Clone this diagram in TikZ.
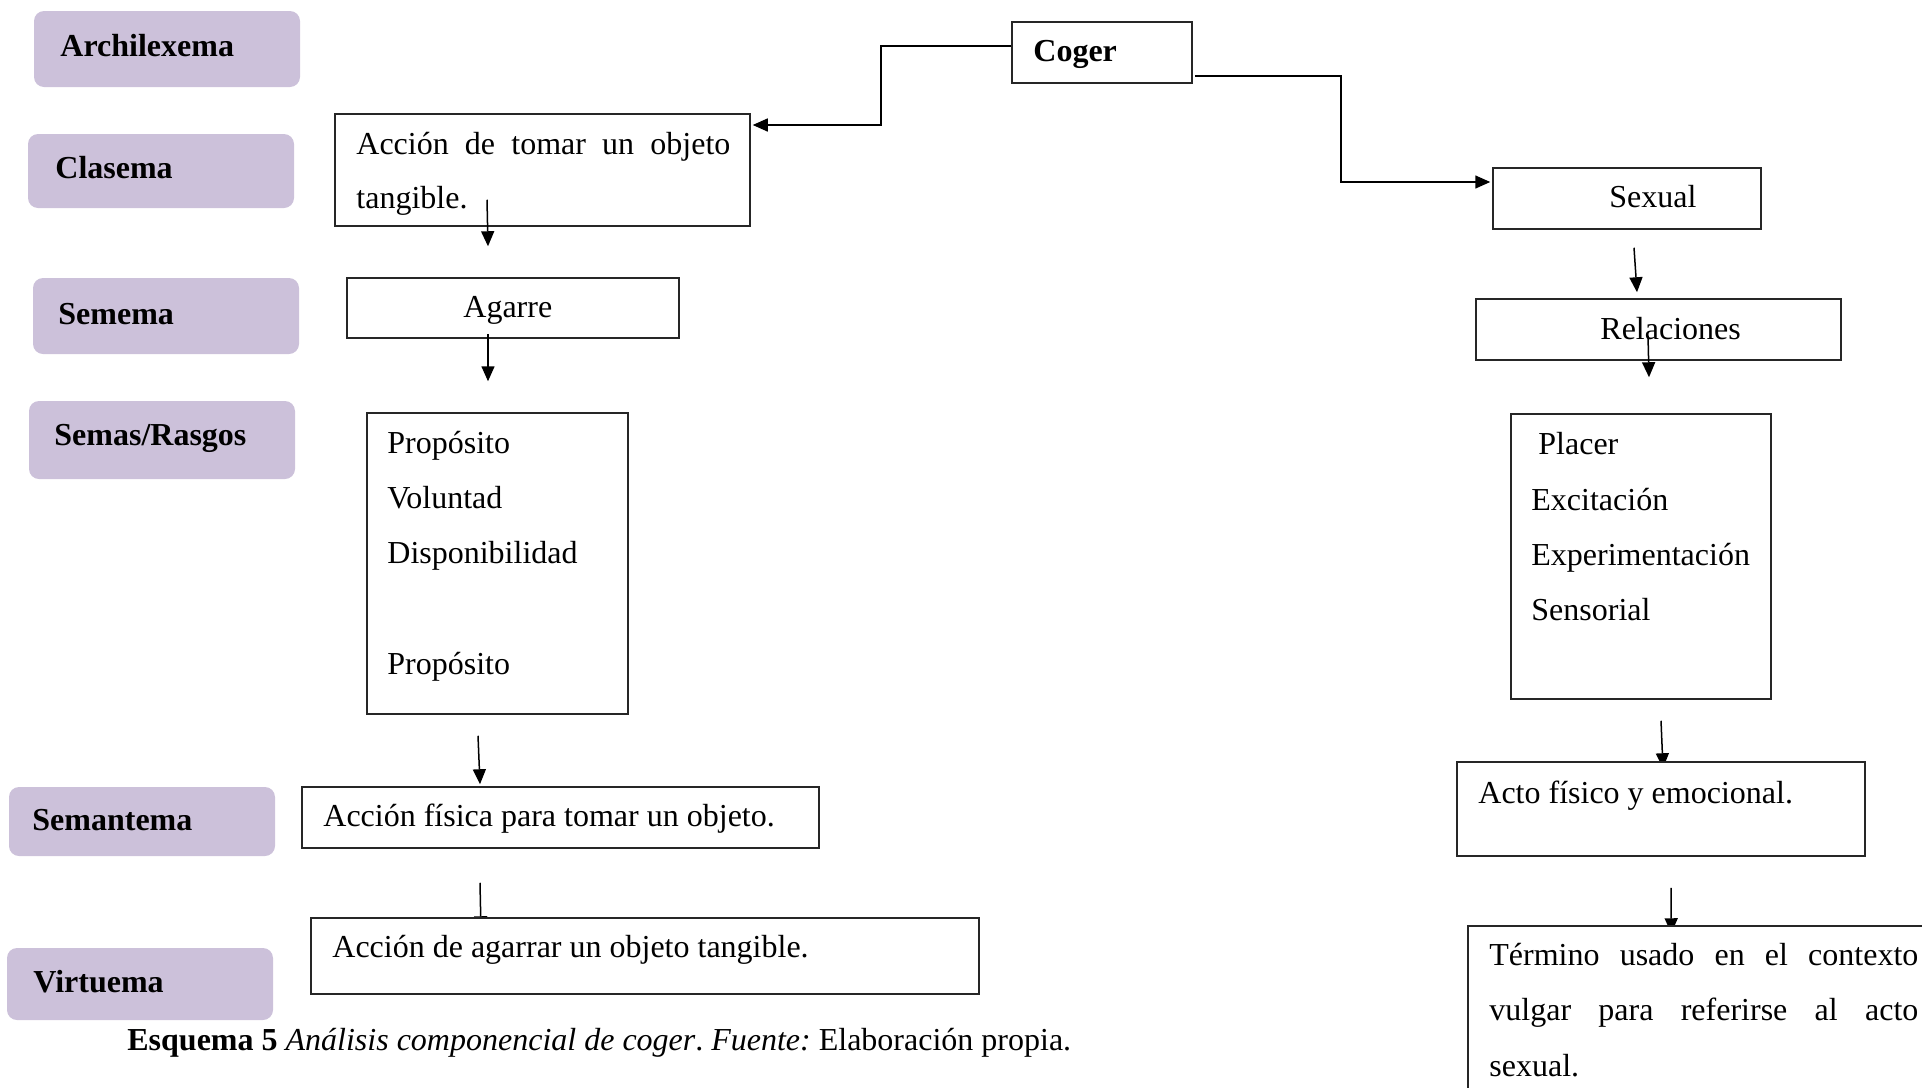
\documentclass[tikz,border=0pt]{standalone}
\usepackage{fontspec}
\setmainfont{Liberation Serif}
\usetikzlibrary{arrows.meta,calc,fit}
\definecolor{lav}{RGB}{204,193,218}
\pgfdeclarelayer{back}
\pgfsetlayers{back,main}
\frenchspacing
\begin{document}
\begin{tikzpicture}[x=0.5pt,y=-0.5pt,
  lbl/.style={fill=lav, rounded corners=5pt, inner sep=0pt},
  frame/.style={draw=black!85, line width=0.75pt, fill=white, inner sep=0pt},
  txt/.style={anchor=base west, inner sep=0pt, font=\fontsize{16}{19}\selectfont},
  btxt/.style={anchor=base west, inner sep=0pt, font=\fontsize{16}{19}\selectfont\bfseries},
  arr/.style={line width=0.75pt, -{Triangle[length=7.5pt,width=6.5pt]}}]
\useasboundingbox (0,0) rectangle (1922,1087);

% level labels
\node[lbl, fit={(34,11)(300,87)}] (l1) {};
\node[btxt] (l1t) at (60,56) {Archilexema};
\node[lbl, fit={(28,134)(294,208)}] (l2) {};
\node[btxt] (l2t) at (55,178) {Clasema};
\node[lbl, fit={(33,278)(299,354)}] (l3) {};
\node[btxt] (l3t) at (58,324) {Semema};
\node[lbl, fit={(29,401)(295,479)}] (l4) {};
\node[btxt] (l4t) at (54,445) {Semas/Rasgos};
\node[lbl, fit={(9,787)(275,856)}] (l5) {};
\node[btxt] (l5t) at (32,830) {Semantema};
\node[lbl, fit={(7,948)(273,1020)}] (l6) {};
\node[btxt] (l6t) at (33,992) {Virtuema};

% root
\node[frame, fit={(1012,22)(1192,83)}] (coger) {};
\node[btxt] (cogert) at (1033,61) {Coger};

% left branch
\node[frame, fit={(335,114)(750,226)}] (clasbox) {};
\node[txt] (clast1) at (356,154) {\makebox[187pt][s]{Acción de tomar un objeto}};
\node[txt] (clast2) at (356,208) {tangible.};
\node[frame, fit={(347,278)(679,338)}] (agarre) {};
\node[txt] (agarret) at (463,317) {Agarre};
\node[frame, fit={(367,413)(628,714)}] (props) {};
\node[txt] (p1) at (387,453) {Propósito};
\node[txt] (p2) at (387,508) {Voluntad};
\node[txt] (p3) at (387,563) {Disponibilidad};
\node[txt] (p4) at (387,674) {Propósito};
\node[frame, fit={(302,787)(819,848)}] (semabox) {};
\node[txt] (semat) at (323,826) {Acción física para tomar un objeto.};

% right branch
\node[frame, fit={(1493,168)(1761,229)}] (sexual) {};
\node[txt] (sexualt) at (1609,207) {Sexual};
\node[frame, fit={(1476,299)(1841,360)}] (relac) {};
\node[txt] (relact) at (1600,339) {Relaciones};
\node[frame, fit={(1511,414)(1771,699)}] (placer) {};
\node[txt] (r1) at (1538,454) {Placer};
\node[txt] (r2) at (1531,510) {Excitación};
\node[txt] (r3) at (1531,565) {Experimentación};
\node[txt] (r4) at (1531,620) {Sensorial};

% lower boxes (they cover the tips of the arrows that reach them)
\node[frame, fit={(311,918)(979,994)}] (virtbox) {};
\node[txt] (virtt) at (332,957) {Acción de agarrar un objeto tangible.};
\node[frame, fit={(1457,762)(1865,856)}] (acto) {};
\node[txt] (actot) at (1478,803) {Acto físico y emocional.};
\node[frame, fit={(1468,926)(1960,1120)}] (termino) {};
\node[txt] (tt1) at (1489,965) {\makebox[214.5pt][s]{Término usado en el contexto}};
\node[txt] (tt2) at (1489,1020) {\makebox[214.5pt][s]{vulgar para referirse al acto}};
\node[txt] (tt3) at (1489,1076) {sexual.};

% caption
\node[txt] (caption) at (127,1050) {\textbf{Esquema 5} {\itshape Análisis componencial de coger}. {\itshape Fuente:} Elaboración propia.};

% connectors
\coordinate (k1) at (881,125);
\coordinate (k2) at (1341,182);
\draw[arr] ([yshift=3.25pt]coger.west) -| (k1) -- ([xshift=1pt]clasbox.east |- k1);
\draw[arr] ([shift={(1pt,-11.75pt)}]coger.east) -| (k2) -- ([xshift=-1pt]sexual.west |- k2);

\draw[arr] ($(clasbox.south)+(-55.5,-27)$) -- ($(agarre.north)+(-25,-31)$);
\draw[arr] ($(agarre.south)+(-25,-5)$) -- ($(props.north)+(-9.5,-31)$);
\draw[arr] ($(props.south)+(-19.5,21)$) -- ($(semabox.north)+(-80.5,-2)$);
\draw[arr] ($(sexual.south)+(7,18)$) -- ($(relac.north)+(-21.5,-6)$);
\draw[arr] ($(relac.south)+(-10.5,-25)$) -- ($(placer.north)+(8,-36)$);

\begin{pgfonlayer}{back}
\draw[arr] ($(semabox.south)+(-80.5,34)$) -- ($(virtbox.north)+(-164,14)$);
\draw[arr] ($(placer.south)+(20,21)$) -- ($(acto.north)+(2,7)$);
\draw[arr] ($(acto.south)+(10,31)$) -- ($(termino.north west)+(204,8)$);
\end{pgfonlayer}
\end{tikzpicture}
\end{document}
